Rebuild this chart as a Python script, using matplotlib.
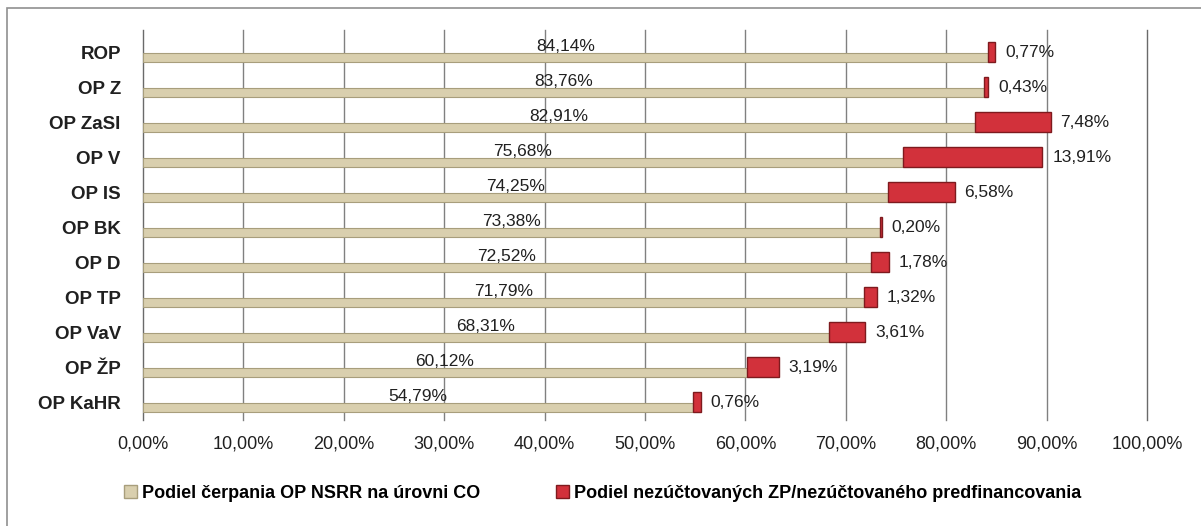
import numpy as np
import matplotlib.pyplot as plt
from matplotlib.patches import Patch, Rectangle

plt.rcParams['font.family'] = ['Liberation Sans', 'DejaVu Sans']

categories = ['ROP', 'OP Z', 'OP ZaSI', 'OP V', 'OP IS', 'OP BK', 'OP D',
              'OP TP', 'OP VaV', 'OP ŽP', 'OP KaHR']
cerpanie = [84.14, 83.76, 82.91, 75.68, 74.25, 73.38, 72.52, 71.79, 68.31, 60.12, 54.79]
nezuctovane = [0.77, 0.43, 7.48, 13.91, 6.58, 0.20, 1.78, 1.32, 3.61, 3.19, 0.76]
xticks = [0, 10, 20, 30, 40, 50, 60, 70, 80, 90, 100]
legend_labels = ['Podiel čerpania OP NSRR na úrovni CO',
                 'Podiel nezúčtovaných ZP/nezúčtovaného predfinancovania']

beige = '#d9cfae'
beige_edge = '#a89e7c'
red = '#d2313b'
red_edge = '#7e1a1e'

W, H = 1201, 526
fig = plt.figure(figsize=(W / 100, H / 100), dpi=100)
ax = fig.add_axes([143 / W, 1 - 420 / H, (1147 - 143) / W, (420 - 30) / H])

# outer frame of the scanned chart (only left/top edges visible)
fig.patches.append(Rectangle((7 / W, -0.1), 1.2, 1 - 8 / H + 0.1, transform=fig.transFigure,
                             fill=False, edgecolor='#909090', linewidth=1.2))

n = len(categories)
rows = np.arange(n)
red_c = rows + 0.715
beige_c = rows + 0.87

for x in xticks:
    ax.axvline(x, color='#6a6a6a' if x in (0, 100) else '#808080',
               linewidth=1.0, zorder=0, clip_on=False)

ax.barh(beige_c, cerpanie, height=0.26, color=beige, edgecolor=beige_edge,
        linewidth=0.8, zorder=2)
ax.barh(red_c, nezuctovane, left=cerpanie, height=0.57, color=red,
        edgecolor=red_edge, linewidth=1.0, zorder=3)

for i in range(n):
    ax.text(cerpanie[i] / 2, rows[i] + 0.56, f'{cerpanie[i]:.2f}%'.replace('.', ','),
            ha='center', va='center', fontsize=12.5, color='#202020', zorder=4)
    end = cerpanie[i] + nezuctovane[i]
    ax.text(end + 1.0, red_c[i], f'{nezuctovane[i]:.2f}%'.replace('.', ','),
            ha='left', va='center', fontsize=12.5, color='#202020', zorder=4)

ax.set_xlim(0, 100)
ax.set_ylim((420 - 27) / 35, (30 - 27) / 35)
ax.set_xticks(xticks)
ax.set_xticklabels([f'{x},00%' for x in xticks], fontsize=13, color='#202020')
ax.set_yticks(red_c)
ax.set_yticklabels(categories, fontsize=13.5, fontweight='bold', color='#202020')
ax.tick_params(axis='both', length=0)
ax.tick_params(axis='x', pad=11)
ax.tick_params(axis='y', pad=16)
for s in ax.spines.values():
    s.set_visible(False)

handles = [Patch(facecolor=beige, edgecolor=beige_edge),
           Patch(facecolor=red, edgecolor=red_edge)]
fig.legend(handles, legend_labels, loc='center left', bbox_to_anchor=(108 / W, 1 - 493 / H),
           ncol=2, frameon=False, handlelength=0.7, handleheight=0.7,
           handletextpad=0.3, columnspacing=4.2,
           prop={'weight': 'bold', 'size': 13})

fig.savefig('out.png', dpi=100)
